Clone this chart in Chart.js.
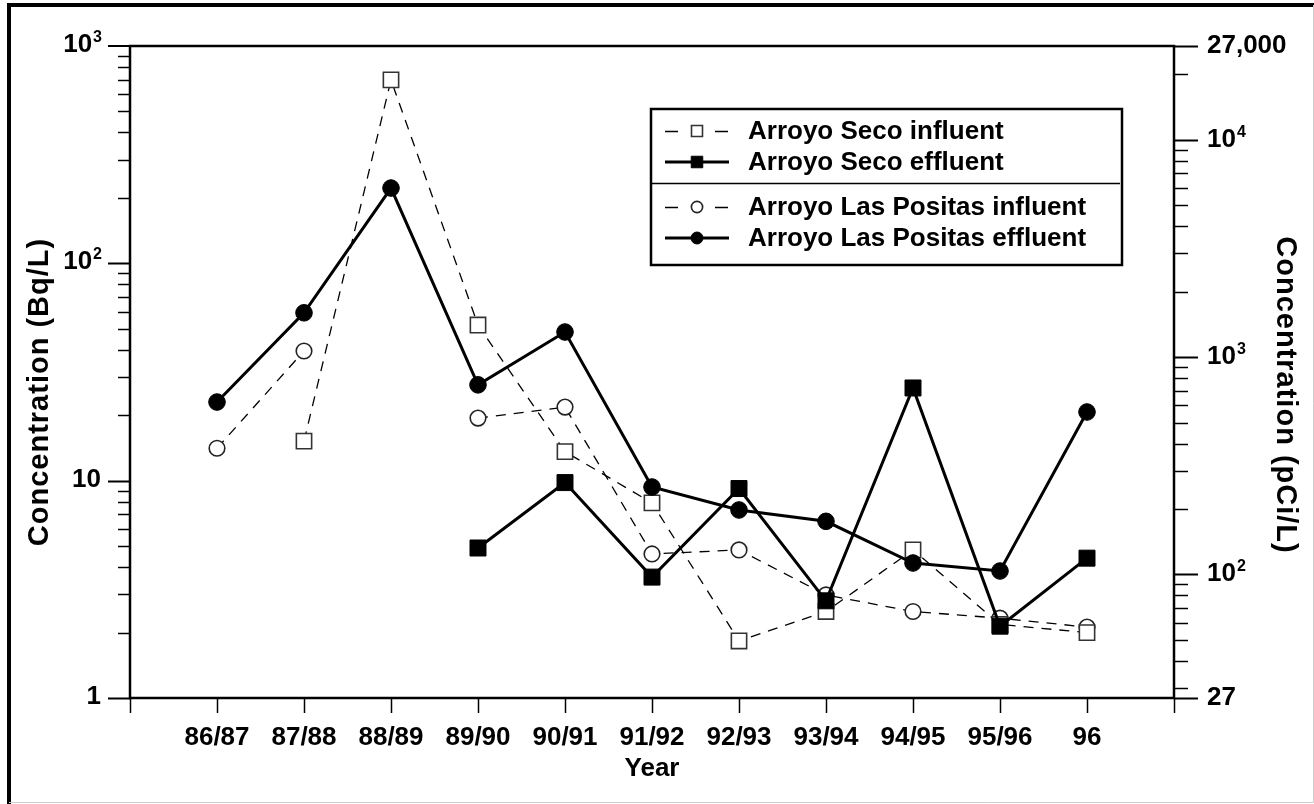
<!DOCTYPE html>
<html>
<head>
<meta charset="utf-8">
<script src="https://cdn.jsdelivr.net/npm/chart.js@4.4.1/dist/chart.umd.min.js"></script>
<style>
  html, body { margin: 0; padding: 0; background: #fff; }
  canvas { display: block; }
</style>
</head>
<body>
<canvas id="chart" width="1314" height="804"></canvas>
<script>
// values (Bq/L)
const years = ['86/87', '87/88', '88/89', '89/90', '90/91', '91/92', '92/93', '93/94', '94/95', '95/96', '96'];
const secoInfluent = [null, 15.2, 698, 52, 13.6, 7.9, 1.83, 2.5, 4.8, 2.18, 2.0];
const secoEffluent = [null, null, null, 4.9, 9.8, 3.6, 9.2, 2.8, 26.7, 2.14, 4.4];
const positasInfluent = [14.1, 39.5, null, 19.4, 21.8, 4.6, 4.8, 2.98, 2.5, 2.33, 2.12];
const positasEffluent = [23.0, 59.2, 222, 27.6, 48.3, 9.35, 7.33, 6.5, 4.18, 3.84, 20.7];

const leftTicks = [1, 10, 100, 1000];
const leftLabels = ['1', '10', '10^2', '10^3'];
const rightTicks = [27, 100, 1000, 10000, 27000];
const rightLabels = ['27', '10^2', '10^3', '10^4', '27,000'];

const FONT = '"Liberation Sans", Arial, Helvetica, sans-serif';

function pts(arr) {
  return arr.map((v, i) => ({ x: i + 1, y: v }));
}

// writes "10^3" style labels with a raised exponent
function powLabel(ctx, text, x, y, align) {
  const parts = text.split('^');
  ctx.font = 'bold 26px ' + FONT;
  const bw = ctx.measureText(parts[0]).width;
  let ew = 0;
  if (parts[1]) {
    ctx.font = 'bold 16px ' + FONT;
    ew = ctx.measureText(parts[1]).width;
  }
  const x0 = align === 'right' ? x - bw - ew : x;
  ctx.textAlign = 'left';
  ctx.textBaseline = 'alphabetic';
  ctx.font = 'bold 26px ' + FONT;
  ctx.fillText(parts[0], x0, y + 8);
  if (parts[1]) {
    ctx.font = 'bold 16px ' + FONT;
    ctx.fillText(parts[1], x0 + bw + 1, y - 2);
  }
}

const decorations = {
  id: 'decorations',
  afterDraw(chart) {
    const ctx = chart.ctx;
    const a = chart.chartArea;
    const { x, y, y2 } = chart.scales;
    ctx.save();
    ctx.fillStyle = '#000';
    ctx.strokeStyle = '#000';

    // outer frame
    ctx.lineWidth = 4;
    ctx.beginPath();
    ctx.moveTo(9, 804);
    ctx.lineTo(9, 5);
    ctx.lineTo(1314, 5);
    ctx.stroke();
    ctx.strokeStyle = '#ccc';
    ctx.lineWidth = 1;
    ctx.beginPath();
    ctx.moveTo(1313.5, 5);
    ctx.lineTo(1313.5, 802.5);
    ctx.lineTo(9, 802.5);
    ctx.stroke();
    ctx.strokeStyle = '#000';

    // plot box
    ctx.lineWidth = 2.5;
    ctx.strokeRect(a.left, a.top, a.right - a.left, a.bottom - a.top);

    // left axis ticks
    for (let d = 1; d <= 100; d *= 10) {
      for (let m = 1; m <= 9; m++) {
        const py = Math.round(y.getPixelForValue(d * m)) + 0.5;
        ctx.lineWidth = m === 1 ? 2 : 1.5;
        ctx.beginPath();
        ctx.moveTo(a.left, py);
        ctx.lineTo(a.left - (m === 1 ? 22 : 12), py);
        ctx.stroke();
      }
    }
    ctx.lineWidth = 2;
    ctx.beginPath();
    ctx.moveTo(a.left, a.top);
    ctx.lineTo(a.left - 22, a.top);
    ctx.stroke();

    // right axis ticks (pCi/L)
    const rightMinor = [];
    for (let d = 10; d <= 10000; d *= 10) {
      for (let m = 1; m <= 9; m++) {
        const v = d * m;
        if (v > 27 && v < 27000 && rightTicks.indexOf(v) < 0) rightMinor.push(v);
      }
    }
    ctx.lineWidth = 1.5;
    rightMinor.forEach(v => {
      const py = Math.round(y2.getPixelForValue(v)) + 0.5;
      ctx.beginPath();
      ctx.moveTo(a.right, py);
      ctx.lineTo(a.right + 14, py);
      ctx.stroke();
    });
    ctx.lineWidth = 2;
    rightTicks.forEach(v => {
      const py = Math.round(y2.getPixelForValue(v)) + 0.5;
      ctx.beginPath();
      ctx.moveTo(a.right, py);
      ctx.lineTo(a.right + 24, py);
      ctx.stroke();
    });

    // x ticks
    ctx.lineWidth = 1.5;
    for (let i = 0; i <= years.length + 1; i++) {
      const px = Math.round(x.getPixelForValue(i)) + 0.5;
      ctx.beginPath();
      ctx.moveTo(px, a.bottom);
      ctx.lineTo(px, a.bottom + 15);
      ctx.stroke();
    }

    // tick labels
    leftTicks.forEach((v, i) => powLabel(ctx, leftLabels[i], 101, y.getPixelForValue(v) - 2, 'right'));
    rightTicks.forEach((v, i) => powLabel(ctx, rightLabels[i], 1207, y2.getPixelForValue(v) - 1, 'left'));

    ctx.font = 'bold 26px ' + FONT;
    ctx.textAlign = 'center';
    ctx.textBaseline = 'middle';
    years.forEach((lab, i) => ctx.fillText(lab, x.getPixelForValue(i + 1), 738));

    // axis titles
    ctx.fillText('Year', (a.left + a.right) / 2, 769);
    ctx.font = 'bold 29px ' + FONT;
    ctx.letterSpacing = '1px';
    ctx.save();
    ctx.translate(40, 392);
    ctx.rotate(-Math.PI / 2);
    ctx.fillText('Concentration (Bq/L)', 0, 0);
    ctx.restore();
    ctx.save();
    ctx.translate(1285, 395);
    ctx.rotate(Math.PI / 2);
    ctx.fillText('Concentration (pCi/L)', 0, 0);
    ctx.restore();
    ctx.letterSpacing = '0px';

    // legend box
    ctx.lineWidth = 2.5;
    ctx.strokeRect(651, 109, 471, 156);
    ctx.lineWidth = 1.5;
    ctx.beginPath();
    ctx.moveTo(651, 183.5);
    ctx.lineTo(1120, 183.5);
    ctx.stroke();
    const rows = [131, 162, 207, 238];
    chart.data.datasets.forEach((ds, i) => {
      const ry = rows[i];
      ctx.strokeStyle = '#000';
      ctx.lineWidth = ds.borderWidth;
      ctx.beginPath();
      if (ds.borderDash && ds.borderDash.length) {
        ctx.moveTo(665, ry + 0.5); ctx.lineTo(678, ry + 0.5);
        ctx.moveTo(715, ry + 0.5); ctx.lineTo(728, ry + 0.5);
      } else {
        ctx.moveTo(665, ry); ctx.lineTo(729, ry);
      }
      ctx.stroke();
      ctx.fillStyle = ds.pointBackgroundColor;
      ctx.strokeStyle = ds.pointBorderColor;
      ctx.lineWidth = ds.pointBorderWidth;
      Chart.helpers.drawPoint(ctx, {
        pointStyle: ds.pointStyle,
        radius: ds.pointRadius * 0.72,
        rotation: 0,
        borderWidth: ds.pointBorderWidth
      }, 697, ry);
      ctx.fillStyle = '#000';
      ctx.font = 'bold 26px ' + FONT;
      ctx.textAlign = 'left';
      ctx.textBaseline = 'middle';
      ctx.fillText(ds.label, 748, ry + 1);
    });

    ctx.restore();
  }
};

const dashed = { borderWidth: 1.3, borderDash: [10, 8] };

new Chart(document.getElementById('chart'), {
  type: 'line',
  data: {
    datasets: [
      {
        label: 'Arroyo Seco influent',
        data: pts(secoInfluent),
        borderColor: '#000',
        borderWidth: dashed.borderWidth,
        borderDash: dashed.borderDash,
        pointStyle: 'rect',
        pointRadius: 10.8,
        pointBackgroundColor: '#fff',
        pointBorderColor: '#333',
        pointBorderWidth: 1.6,
        order: 3
      },
      {
        label: 'Arroyo Seco effluent',
        data: pts(secoEffluent),
        borderColor: '#000',
        borderWidth: 3,
        borderDash: [],
        pointStyle: 'rect',
        pointRadius: 11.3,
        pointBackgroundColor: '#000',
        pointBorderColor: '#000',
        pointBorderWidth: 1,
        order: 1
      },
      {
        label: 'Arroyo Las Positas influent',
        data: pts(positasInfluent),
        borderColor: '#000',
        borderWidth: dashed.borderWidth,
        borderDash: dashed.borderDash,
        pointStyle: 'circle',
        pointRadius: 7.8,
        pointBackgroundColor: '#fff',
        pointBorderColor: '#222',
        pointBorderWidth: 1.6,
        order: 4
      },
      {
        label: 'Arroyo Las Positas effluent',
        data: pts(positasEffluent),
        borderColor: '#000',
        borderWidth: 3,
        borderDash: [],
        pointStyle: 'circle',
        pointRadius: 8.3,
        pointBackgroundColor: '#000',
        pointBorderColor: '#000',
        pointBorderWidth: 1,
        order: 0
      }
    ]
  },
  options: {
    responsive: false,
    animation: false,
    devicePixelRatio: 1,
    events: [],
    spanGaps: false,
    layout: {
      autoPadding: false,
      padding: { left: 130, right: 140, top: 46, bottom: 106 }
    },
    elements: { line: { tension: 0 } },
    scales: {
      x: { type: 'linear', min: 0, max: years.length + 1, display: false },
      y: { type: 'logarithmic', min: 1, max: 1000, display: false },
      y2: { type: 'logarithmic', min: 27, max: 27000, display: false }
    },
    plugins: {
      legend: { display: false },
      tooltip: { enabled: false }
    }
  },
  plugins: [decorations]
});
</script>
</body>
</html>
